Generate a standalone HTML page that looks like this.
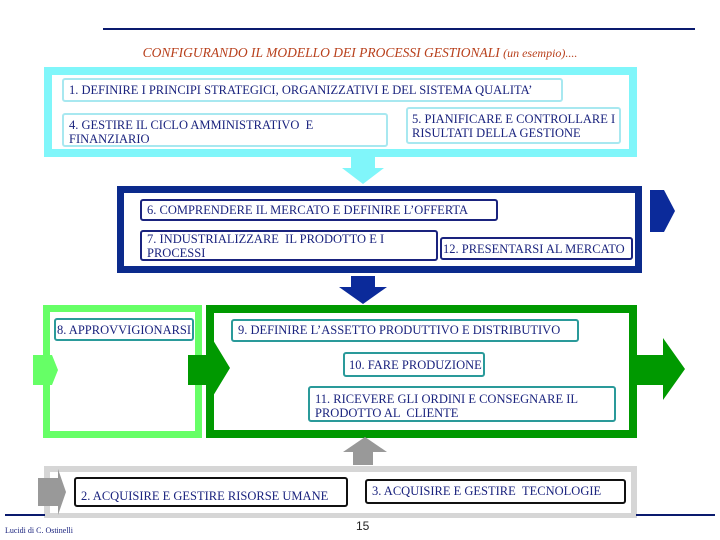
<!DOCTYPE html>
<html><head><meta charset="utf-8"><style>
body{margin:0;width:720px;height:540px;background:#fff;position:relative;overflow:hidden;font-family:"Liberation Serif",serif;}
.a{position:absolute;box-sizing:border-box;}
.b{position:absolute;box-sizing:border-box;background:#fff;border-radius:3px;font-size:12.5px;color:#1a237e;padding:2px 5px;line-height:14px;white-space:nowrap;overflow:hidden;}
</style></head><body>
<div class="a" style="left:103px;top:28px;width:592px;height:2px;background:#0a1a6e"></div>
<div class="a" style="left:0;top:45px;width:720px;text-align:center;font-style:italic;font-size:13.5px;color:#b8401c">CONFIGURANDO IL MODELLO DEI PROCESSI GESTIONALI <span style="font-size:12px">(un esempio)....</span></div>

<div class="a" style="left:44px;top:67px;width:593px;height:90px;border:8px solid #80f6fa"></div>
<div class="b" style="left:62px;top:78px;width:501px;height:24px;border:2px solid #a8e8f0;padding-top:3px">1. DEFINIRE I PRINCIPI STRATEGICI, ORGANIZZATIVI E DEL SISTEMA QUALITA’</div>
<div class="b" style="left:62px;top:113px;width:326px;height:34px;border:2px solid #a8e8f0;padding-top:3px">4. GESTIRE IL CICLO AMMINISTRATIVO &nbsp;E<br>FINANZIARIO</div>
<div class="b" style="left:406px;top:107px;width:215px;height:37px;border:2px solid #a8e8f0;padding-top:3px;padding-left:4px">5. PIANIFICARE E CONTROLLARE I<br>RISULTATI DELLA GESTIONE</div>

<div class="a" style="left:117px;top:186px;width:525px;height:87px;border:7px solid #0b2a8c"></div>
<div class="b" style="left:140px;top:199px;width:358px;height:22px;border:2px solid #1a237e;padding-top:2px">6. COMPRENDERE IL MERCATO E DEFINIRE L’OFFERTA</div>
<div class="b" style="left:140px;top:230px;width:298px;height:31px;border:2px solid #1a237e;padding-top:0px">7. INDUSTRIALIZZARE &nbsp;IL PRODOTTO E I<br>PROCESSI</div>
<div class="b" style="left:440px;top:237px;width:193px;height:23px;border:2px solid #1a237e;padding:3px 1px">12. PRESENTARSI AL MERCATO</div>

<div class="a" style="left:43px;top:305px;width:159px;height:133px;border:7px solid #66ff66"></div>
<div class="a" style="left:206px;top:305px;width:431px;height:133px;border:8px solid #009900"></div>
<div class="b" style="left:54px;top:318px;width:140px;height:23px;border:2px solid #2a9a9a;padding:3px 1px">8. APPROVVIGIONARSI</div>
<div class="b" style="left:231px;top:319px;width:348px;height:23px;border:2px solid #2a9a9a;padding-top:2px">9. DEFINIRE L’ASSETTO PRODUTTIVO E DISTRIBUTIVO</div>
<div class="b" style="left:343px;top:352px;width:142px;height:25px;border:2px solid #2a9a9a;padding-top:4px;padding-left:4px">10. FARE PRODUZIONE</div>
<div class="b" style="left:308px;top:386px;width:308px;height:36px;border:2px solid #2a9a9a;padding-top:4px">11. RICEVERE GLI ORDINI E CONSEGNARE IL<br>PRODOTTO AL &nbsp;CLIENTE</div>

<div class="a" style="left:44px;top:466px;width:593px;height:52px;border:6px solid #d6d6d6;border-bottom-width:5px"></div>
<div class="b" style="left:74px;top:477px;width:274px;height:30px;border:2px solid #111;padding-top:10px">2. ACQUISIRE E GESTIRE RISORSE UMANE</div>
<div class="b" style="left:365px;top:479px;width:261px;height:25px;border:2px solid #111;padding-top:3px">3. ACQUISIRE E GESTIRE &nbsp;TECNOLOGIE</div>

<svg class="a" style="left:0;top:0" width="720" height="540">
<polygon points="351,157 375,157 375,168 384,168 363,184 342,168 351,168" fill="#80f6fa"/>
<polygon points="650,190 664,190 675,211 664,232 650,232" fill="#0b2a9a"/>
<polygon points="351,276 375,276 375,287 387,287 363,304 339,287 351,287" fill="#0b2a9a"/>
<polygon points="33,355 52,355 58,370 52,385 33,385" fill="#66ff66"/>
<polygon points="188,355 213,355 213,340 230,368 213,396 213,385 188,385" fill="#009900"/>
<polygon points="634,355 663,355 663,338 685,369 663,400 663,385 634,385" fill="#009900"/>
<polygon points="353,465 373,465 373,452 387,452 365,437 343,452 353,452" fill="#999"/>
<polygon points="38,478 58,478 58,469 66,492 58,515 58,506 38,506" fill="#999"/>
<line x1="5" y1="515" x2="45" y2="515" stroke="#0a1a6e" stroke-width="2"/>
<line x1="636" y1="515" x2="715" y2="515" stroke="#0a1a6e" stroke-width="2"/>
</svg>

<div class="a" style="left:356px;top:519px;font-family:'Liberation Sans',sans-serif;font-size:12px;color:#222">15</div>
<div class="a" style="left:5px;top:526px;font-size:8px;color:#1a237e">Lucidi di C. Ostinelli</div>
</body></html>
